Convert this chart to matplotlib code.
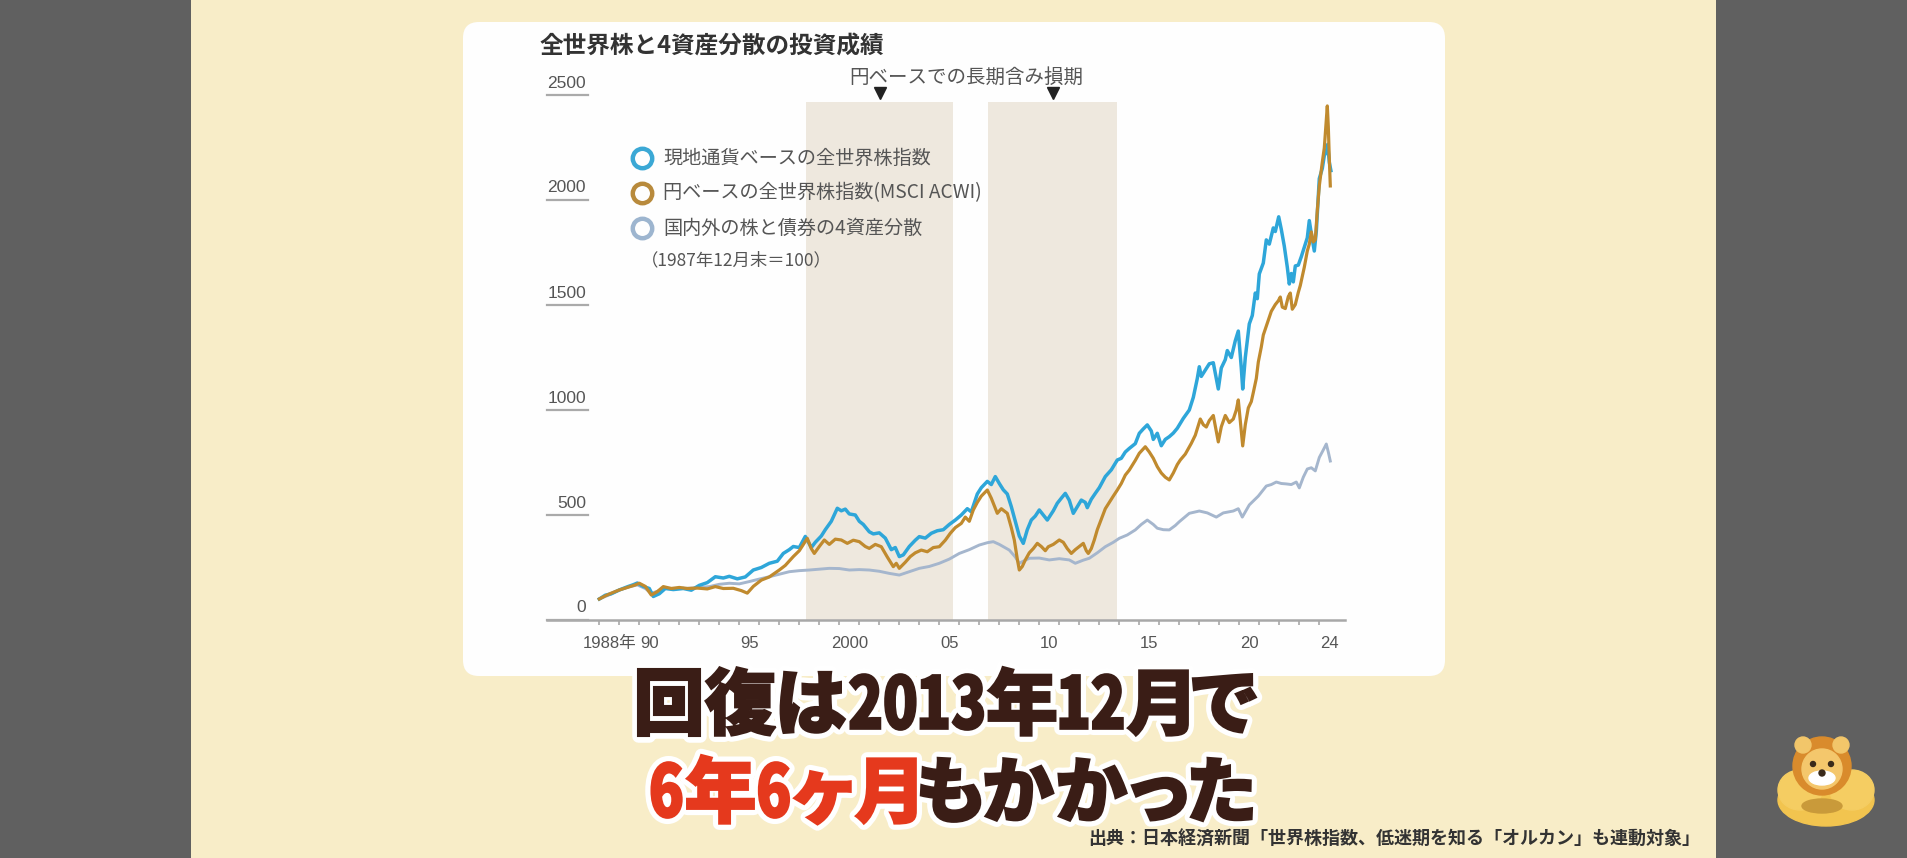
import numpy as np
import matplotlib.pyplot as plt
from matplotlib.patches import FancyBboxPatch, Rectangle, Ellipse, Circle, PathPatch
from matplotlib.textpath import TextPath
from matplotlib.font_manager import FontProperties
from matplotlib.transforms import Affine2D

plt.rcParams['font.family'] = ['Noto Sans CJK JP', 'DejaVu Sans']

# ---- data (1987年12月末 = 100) ----
blue_t = [1988.0, 1988.3, 1988.6, 1989.0, 1989.4, 1989.7, 1989.9, 1990.2, 1990.5, 1990.7,
          1991.0, 1991.3, 1991.7, 1992.2, 1992.6, 1993.0, 1993.4, 1993.8, 1994.2, 1994.5,
          1994.9, 1995.3, 1995.7, 1996.1, 1996.5, 1996.9, 1997.2, 1997.5, 1997.7, 1998.0,
          1998.3, 1998.6, 1998.8, 1999.1, 1999.3, 1999.6, 1999.9, 2000.1, 2000.3, 2000.5,
          2000.8, 2001.0, 2001.2, 2001.5, 2001.7, 2002.0, 2002.3, 2002.6, 2002.8, 2003.0,
          2003.2, 2003.5, 2003.8, 2004.0, 2004.3, 2004.6, 2004.9, 2005.2, 2005.5, 2005.8,
          2006.1, 2006.4, 2006.6, 2006.9, 2007.1, 2007.4, 2007.6, 2007.8, 2008.0, 2008.2,
          2008.4, 2008.6, 2008.8, 2009.0, 2009.2, 2009.4, 2009.6, 2009.8, 2010.0, 2010.2,
          2010.4, 2010.7, 2010.9, 2011.1, 2011.3, 2011.5, 2011.7, 2011.9, 2012.1, 2012.3,
          2012.4, 2012.6, 2012.8, 2013.0, 2013.3, 2013.6, 2013.9, 2014.1, 2014.3, 2014.5,
          2014.8, 2015.0, 2015.2, 2015.4, 2015.6, 2015.7, 2015.9, 2016.1, 2016.3, 2016.5,
          2016.7, 2016.9, 2017.2, 2017.5, 2017.7, 2017.9, 2018.0, 2018.1, 2018.3, 2018.5,
          2018.7, 2018.85, 2018.95, 2019.1, 2019.3, 2019.4, 2019.6, 2019.8, 2019.95, 2020.1,
          2020.17, 2020.3, 2020.5, 2020.65, 2020.8, 2020.9, 2021.0, 2021.2, 2021.35, 2021.5,
          2021.7, 2021.8, 2021.97, 2022.1, 2022.25, 2022.4, 2022.5, 2022.6, 2022.7, 2022.8,
          2022.95, 2023.1, 2023.25, 2023.4, 2023.5, 2023.6, 2023.75, 2023.85, 2024.0, 2024.15,
          2024.25, 2024.35, 2024.42, 2024.5, 2024.58]
blue_v = [100, 118, 125, 143, 158, 168, 176, 160, 150, 112,
          125, 150, 145, 150, 142, 165, 178, 206, 200, 208,
          196, 205, 238, 250, 270, 280, 317, 335, 350, 345,
          398, 345, 370, 400, 430, 470, 532, 520, 528, 505,
          500, 470, 455, 420, 410, 415, 390, 335, 345, 302,
          310, 350, 380, 397, 390, 413, 425, 430, 455, 476,
          500, 530, 515, 600, 630, 660, 645, 683, 650, 620,
          600, 540, 470, 400, 365, 430, 476, 495, 524, 500,
          476, 520, 556, 580, 603, 570, 508, 540, 571, 560,
          535, 575, 603, 630, 683, 715, 762, 770, 800, 817,
          840, 889, 910, 929, 900, 860, 889, 830, 860, 873,
          890, 913, 960, 1000, 1060, 1150, 1206, 1160, 1190, 1220,
          1225, 1150, 1100, 1200, 1240, 1283, 1250, 1330, 1376, 1200,
          1100, 1250, 1410, 1450, 1557, 1530, 1648, 1700, 1810, 1790,
          1867, 1850, 1920, 1860, 1780, 1680, 1600, 1650, 1610, 1686,
          1690, 1730, 1775, 1820, 1902, 1840, 1757, 1850, 2102, 2150,
          2211, 2230, 2265, 2180, 2140]

gold_t = [1988.0, 1988.3, 1988.6, 1989.0, 1989.4, 1989.8, 1990.0, 1990.3, 1990.6, 1990.9,
          1991.2, 1991.6, 1992.0, 1992.4, 1992.9, 1993.4, 1993.8, 1994.2, 1994.7, 1995.1,
          1995.4, 1995.7, 1996.1, 1996.5, 1997.0, 1997.3, 1997.7, 1998.0, 1998.4, 1998.6,
          1998.75, 1999.0, 1999.25, 1999.5, 1999.8, 2000.1, 2000.4, 2000.7, 2001.0, 2001.3,
          2001.5, 2001.8, 2002.1, 2002.4, 2002.7, 2002.85, 2003.0, 2003.3, 2003.55, 2003.8,
          2004.1, 2004.4, 2004.7, 2005.0, 2005.3, 2005.55, 2005.8, 2006.1, 2006.3, 2006.5,
          2006.7, 2006.9, 2007.1, 2007.4, 2007.6, 2007.9, 2008.1, 2008.4, 2008.6, 2008.75,
          2008.9, 2009.0, 2009.15, 2009.3, 2009.5, 2009.7, 2009.9, 2010.1, 2010.3, 2010.45,
          2010.7, 2011.0, 2011.2, 2011.4, 2011.6, 2011.8, 2012.0, 2012.2, 2012.35, 2012.45,
          2012.6, 2012.75, 2012.9, 2013.1, 2013.3, 2013.5, 2013.7, 2013.9, 2014.1, 2014.3,
          2014.5, 2014.8, 2015.0, 2015.3, 2015.5, 2015.7, 2015.9, 2016.1, 2016.3, 2016.5,
          2016.7, 2016.9, 2017.05, 2017.3, 2017.6, 2017.8, 2018.05, 2018.2, 2018.35, 2018.5,
          2018.7, 2018.85, 2018.95, 2019.1, 2019.3, 2019.5, 2019.7, 2019.85, 2019.95, 2020.05,
          2020.17, 2020.3, 2020.45, 2020.6, 2020.7, 2020.85, 2020.95, 2021.1, 2021.2, 2021.35,
          2021.45, 2021.6, 2021.8, 2021.95, 2022.05, 2022.15, 2022.3, 2022.45, 2022.55, 2022.65,
          2022.8, 2022.95, 2023.05, 2023.25, 2023.4, 2023.5, 2023.6, 2023.7, 2023.8, 2023.9,
          2024.0, 2024.15, 2024.25, 2024.35, 2024.4, 2024.45, 2024.5, 2024.55]
gold_v = [100, 115, 128, 143, 155, 167, 175, 160, 119, 135,
          159, 150, 155, 150, 152, 148, 159, 150, 151, 140,
          128, 160, 190, 205, 238, 260, 302, 330, 389, 340,
          317, 350, 381, 360, 385, 381, 365, 380, 373, 350,
          341, 360, 349, 300, 254, 270, 246, 275, 302, 320,
          333, 325, 345, 349, 380, 413, 440, 460, 490, 470,
          524, 560, 590, 619, 580, 508, 530, 508, 440, 381,
          290, 238, 255, 286, 320, 340, 365, 350, 330, 349,
          360, 381, 370, 340, 317, 335, 350, 365, 330, 317,
          340, 381, 430, 480, 530, 560, 590, 619, 650, 690,
          714, 760, 794, 825, 800, 770, 730, 700, 680, 667,
          700, 740, 762, 790, 841, 880, 957, 930, 919, 950,
          974, 900, 848, 920, 974, 940, 957, 1000, 1048, 950,
          829, 930, 1010, 1040, 1083, 1150, 1228, 1300, 1357, 1400,
          1428, 1470, 1502, 1520, 1538, 1490, 1483, 1540, 1557, 1480,
          1502, 1560, 1593, 1680, 1757, 1790, 1848, 1800, 1811, 1950,
          2067, 2180, 2248, 2380, 2448, 2350, 2200, 2067]

gray_t = [1988.0, 1988.5, 1989.0, 1989.5, 1989.9, 1990.3, 1990.6, 1991.0, 1991.3, 1992.0,
          1992.5, 1993.0, 1993.5, 1994.0, 1994.5, 1995.0, 1995.5, 1996.0, 1996.5, 1997.0,
          1997.5, 1998.0, 1998.5, 1999.0, 1999.5, 2000.0, 2000.5, 2001.0, 2001.5, 2002.0,
          2002.5, 2003.0, 2003.5, 2004.0, 2004.5, 2005.0, 2005.5, 2006.0, 2006.5, 2007.0,
          2007.4, 2007.7, 2008.0, 2008.5, 2008.8, 2009.0, 2009.2, 2009.5, 2010.0, 2010.5,
          2011.0, 2011.5, 2011.8, 2012.2, 2012.5, 2012.9, 2013.3, 2013.7, 2014.0, 2014.4,
          2014.8, 2015.1, 2015.4, 2015.7, 2015.9, 2016.2, 2016.5, 2016.8, 2017.0, 2017.5,
          2018.0, 2018.4, 2018.85, 2019.2, 2019.7, 2019.95, 2020.15, 2020.5, 2020.95, 2021.35,
          2021.6, 2021.85, 2022.1, 2022.35, 2022.6, 2022.85, 2023.0, 2023.2, 2023.4, 2023.6,
          2023.8, 2024.0, 2024.2, 2024.35, 2024.45, 2024.55]
gray_v = [100, 120, 143, 158, 167, 150, 127, 140, 151, 150,
          151, 155, 159, 170, 175, 172, 183, 195, 206, 218,
          230, 235, 238, 242, 246, 245, 238, 240, 238, 232,
          222, 214, 230, 246, 255, 270, 290, 317, 335, 357,
          368, 373, 360, 333, 300, 270, 280, 294, 295, 286,
          292, 286, 270, 285, 294, 320, 349, 370, 389, 405,
          429, 455, 476, 455, 437, 430, 429, 450, 468, 508,
          519, 510, 490, 510, 519, 530, 490, 548, 590, 638,
          645, 657, 650, 648, 645, 657, 629, 680, 719, 725,
          710, 774, 810, 838, 800, 757]

loss_start = [1998.33, 2007.43]
loss_end = [2005.7, 2013.9]
loss_top = 2467

y_ticks = [0, 500, 1000, 1500, 2000, 2500]
x_tick_years = [1988, 1990, 1995, 2000, 2005, 2010, 2015, 2020, 2024]
x_tick_labels = ['1988年', '90', '95', '2000', '05', '10', '15', '20', '24']

legend_labels = ['現地通貨ベースの全世界株指数', '円ベースの全世界株指数(MSCI ACWI)',
                 '国内外の株と債券の4資産分散']

# ---- figure ----
W, H = 1907, 858
fig = plt.figure(figsize=(W / 100, H / 100), dpi=100)
fig.patch.set_facecolor('#f8edc8')

bg = fig.add_axes([0, 0, 1, 1], zorder=0)
bg.set_xlim(0, W)
bg.set_ylim(H, 0)
bg.axis('off')

fg = fig.add_axes([0, 0, 1, 1], zorder=2)
fg.set_xlim(0, W)
fg.set_ylim(H, 0)
fg.axis('off')
fg.patch.set_alpha(0)

# side bars and card
bg.add_patch(Rectangle((0, 0), 191, H, color='#606060', lw=0))
bg.add_patch(Rectangle((1716, 0), W - 1716, H, color='#606060', lw=0))
bg.add_patch(FancyBboxPatch((463, 22), 982, 654, boxstyle='round,pad=0,rounding_size=16',
                            facecolor='#fefefe', edgecolor='none'))

# chart axes: x 547..1345 px, y 60..620 px
x0px, x1px, ytop, ybot = 547, 1345, 60, 620
ax = fig.add_axes([x0px / W, (H - ybot) / H, (x1px - x0px) / W, (ybot - ytop) / H], zorder=1)
ax.patch.set_alpha(0)
t_at = lambda px: 1988 + (px - 599.3) / 20.0
ax.set_xlim(t_at(x0px), t_at(x1px))
vpp = 1 / 0.21  # value per pixel
ax.set_ylim(0, (ybot - ytop) * vpp)
for s in ax.spines.values():
    s.set_visible(False)
ax.set_xticks([])
ax.set_yticks([])

num_font = ['Liberation Sans Narrow', 'Liberation Sans', 'Noto Sans CJK JP']

# shaded loss periods
for a, b in zip(loss_start, loss_end):
    ax.fill_between([a, b], 0, loss_top, color='#eee8de', lw=0, zorder=1)
    ax.plot([(a + b) / 2], [(620 - 93) * vpp], marker='v', ms=9, color='#222222',
            clip_on=False, zorder=3)

# axis line, ticks
ax.plot([t_at(x0px), t_at(x1px)], [0, 0], color='#a8a8a8', lw=1.8, clip_on=False, zorder=2)
ax.vlines(np.arange(1988, 2025), -5 * vpp, 0, color='#a8a8a8', lw=1.2, clip_on=False)
for yr, lab in zip(x_tick_years, x_tick_labels):
    ax.text(yr + 0.5, -23 * vpp, lab, ha='center', va='center', fontsize=12, color='#555555',
            family=num_font)

# y labels with short underlines
for v in y_ticks:
    ax.plot([t_at(547), t_at(588)], [v, v], color='#aaaaaa', lw=1.6, clip_on=False)
    ax.text(t_at(586), v + 12 * vpp, str(v), ha='right', va='center', fontsize=12.5,
            color='#555555', family=num_font)

# series
ax.plot(gray_t, gray_v, color='#a5b6cd', lw=2.1, zorder=4)
ax.plot(blue_t, blue_v, color='#2ea6d9', lw=2.5, zorder=5)
ax.plot(gold_t, gold_v, color='#c08a2e', lw=2.3, zorder=6)

# ---- texts in pixel coordinates ----
bg.text(540, 47, '全世界株と4資産分散の投資成績', fontsize=17, fontweight='bold',
        color='#333333', ha='left', va='center')
fg.text(966, 77, '円ベースでの長期含み損期', fontsize=14, color='#555555',
        ha='center', va='center')

leg_colors = ['#3ba8d5', '#b88a3c', '#9db5cf']
for i, (lab, c) in enumerate(zip(legend_labels, leg_colors)):
    yy = 158 + i * 35
    fg.plot([642], [yy], marker='o', ms=14, mfc='none', mec=c, mew=3.2)
    fg.text(663, yy, lab, fontsize=13.8, color='#555555', ha='left', va='center')
fg.text(641, 260, '（1987年12月末＝100）', fontsize=12.5, color='#555555',
        ha='left', va='center')

# caption drawn glyph by glyph so digits can be narrower
cap_fp = FontProperties(family='Noto Sans CJK JP', weight='black')
cap_dark = '#3a1d16'
cap_red = '#e5391d'


def caption_line(runs, x_right, y_mid, em, gap):
    glyphs = []
    x = 0.0
    for text, color in runs:
        for ch in text:
            tp = TextPath((0, 0), ch, size=em, prop=cap_fp)
            ext = tp.get_extents()
            sx = 0.8 if ch.isdigit() else 1.0
            glyphs.append((tp, ext, sx, x, color))
            x += ext.width * sx + gap
    total = x - gap
    left = x_right - total
    base = y_mid + 0.40 * em
    for tp, ext, sx, gx, color in glyphs:
        tr = Affine2D().translate(-ext.x0, 0).scale(sx, -1).translate(left + gx, base)
        path = tr.transform_path(tp)
        bg.add_patch(PathPatch(path, facecolor='white', edgecolor='white', lw=9,
                               joinstyle='round', zorder=3))
        bg.add_patch(PathPatch(path, facecolor=color, edgecolor=color, lw=1.5, zorder=4))


caption_line([('回復は2013年12月で', cap_dark)], 1256, 700, 72, 5)
caption_line([('6年6ヶ月', cap_red), ('もかかった', cap_dark)], 1252, 788, 72, 5)

bg.text(1700, 839, '出典：日本経済新聞「世界株指数、低迷期を知る「オルカン」も連動対象」',
        fontsize=13, fontweight='bold', color='#333333', ha='right', va='center')

# mascot (simple lion)
bg.add_patch(Ellipse((1826, 800), 96, 52, color='#f2c44f', zorder=2))
bg.add_patch(Ellipse((1800, 790), 44, 40, color='#f5cd62', zorder=2))
bg.add_patch(Ellipse((1852, 790), 44, 40, color='#f5cd62', zorder=2))
bg.add_patch(Circle((1822, 766), 29, color='#d98b2c', zorder=3))
bg.add_patch(Circle((1803, 745), 8, color='#f2c66a', zorder=3))
bg.add_patch(Circle((1841, 745), 8, color='#f2c66a', zorder=3))
bg.add_patch(Circle((1822, 769), 20, color='#f4c76c', zorder=4))
bg.add_patch(Ellipse((1822, 778), 26, 14, color='white', zorder=5))
bg.add_patch(Circle((1813, 764), 2.5, color='#3a2a1a', zorder=6))
bg.add_patch(Circle((1831, 764), 2.5, color='#3a2a1a', zorder=6))
bg.add_patch(Circle((1822, 773), 3, color='#3a2a1a', zorder=6))
bg.add_patch(Ellipse((1822, 806), 40, 14, color='#c99a3a', zorder=3))

fig.savefig('out.png', dpi=100, facecolor=fig.get_facecolor())
